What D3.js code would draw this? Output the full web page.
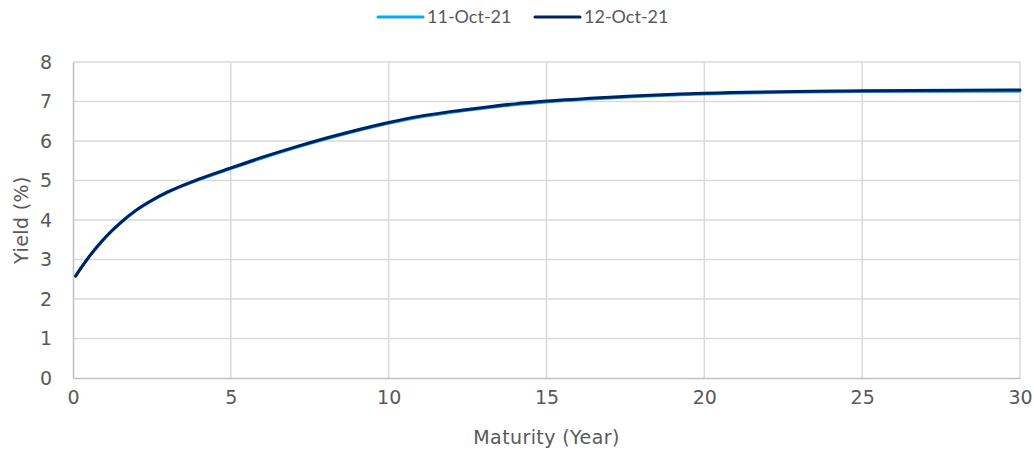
<!DOCTYPE html>
<html>
<head>
<meta charset="utf-8">
<script src="https://cdn.jsdelivr.net/npm/d3@7"></script>
<style>
  html, body { margin: 0; padding: 0; background: #ffffff; }
  svg { display: block; }
</style>
</head>
<body>
<svg id="chart" width="1034" height="450"></svg>
<script>
// Yield curve: maturity in years vs yield in percent
const maturities = [0.083, 0.25, 0.5, 0.75, 1, 1.5, 2, 2.5, 3, 4, 5, 6, 7, 8, 9, 10, 11, 12, 13, 14, 15, 17, 20, 25, 30];
const yieldsOct11 = [2.58, 2.78, 3.06, 3.31, 3.54, 3.92, 4.24, 4.49, 4.70, 5.02, 5.30, 5.57, 5.82, 6.05, 6.26, 6.45, 6.61, 6.73, 6.83, 6.92, 6.99, 7.09, 7.19, 7.25, 7.26];
const yieldsOct12 = [2.58, 2.78, 3.06, 3.31, 3.54, 3.93, 4.25, 4.50, 4.71, 5.04, 5.32, 5.59, 5.84, 6.07, 6.28, 6.47, 6.63, 6.75, 6.85, 6.94, 7.01, 7.11, 7.21, 7.27, 7.29];
const seriesNames = ["11-Oct-21", "12-Oct-21"];
const seriesColors = ["#00b0f0", "#002060"];
const xTicks = [0, 5, 10, 15, 20, 25, 30];
const yTicks = [0, 1, 2, 3, 4, 5, 6, 7, 8];

const svg = d3.select("#chart");
const margin = { left: 73, right: 14, top: 62, bottom: 72 };
const W = 1034, H = 450;

const x = d3.scaleLinear().domain([0, 30]).range([margin.left, W - margin.right]);
const y = d3.scaleLinear().domain([0, 8]).range([H - margin.bottom, margin.top]);

const textColor = "#595959";
const tickFont = "'DejaVu Sans', Verdana, sans-serif";

// Gridlines
svg.append("g")
  .selectAll("line")
  .data(yTicks.slice(1))
  .join("line")
  .attr("x1", x(0)).attr("x2", x(30))
  .attr("y1", d => y(d)).attr("y2", d => y(d))
  .attr("stroke", "#d9d9d9").attr("stroke-width", 1.5);

svg.append("g")
  .selectAll("line")
  .data(xTicks.slice(1))
  .join("line")
  .attr("x1", d => x(d)).attr("x2", d => x(d))
  .attr("y1", y(0)).attr("y2", y(8))
  .attr("stroke", "#d9d9d9").attr("stroke-width", 1.5);

// Axes
const xAxis = svg.append("g")
  .attr("transform", `translate(0,${y(0)})`)
  .call(d3.axisBottom(x).tickValues(xTicks).tickSize(0).tickPadding(13).tickFormat(d3.format("d")));
const yAxis = svg.append("g")
  .attr("transform", `translate(${x(0)},0)`)
  .call(d3.axisLeft(y).tickValues(yTicks).tickSize(0).tickPadding(21).tickFormat(d3.format("d")));

[xAxis, yAxis].forEach(g => {
  g.select(".domain").attr("stroke", "#bfbfbf").attr("stroke-width", 1.5);
  g.selectAll("text")
    .attr("fill", textColor)
    .style("font-family", tickFont)
    .style("font-size", "19px");
});

// Axis titles
svg.append("text")
  .attr("x", (x(0) + x(30)) / 2)
  .attr("y", 444)
  .attr("text-anchor", "middle")
  .attr("fill", textColor)
  .style("font-family", tickFont)
  .style("font-size", "19px")
  .style("letter-spacing", "0.4px")
  .text("Maturity (Year)");

svg.append("text")
  .attr("transform", `translate(28,${(y(0) + y(8)) / 2}) rotate(-90)`)
  .attr("text-anchor", "middle")
  .attr("fill", textColor)
  .style("font-family", tickFont)
  .style("font-size", "19px")
  .style("letter-spacing", "0.4px")
  .text("Yield (%)");

// Series lines
const line = d3.line()
  .x(d => x(d[0]))
  .y(d => y(d[1]))
  .curve(d3.curveMonotoneX);

[yieldsOct11, yieldsOct12].forEach((vals, i) => {
  svg.append("path")
    .datum(maturities.map((m, j) => [m, vals[j]]))
    .attr("d", line)
    .attr("fill", "none")
    .attr("stroke", seriesColors[i])
    .attr("stroke-width", 3)
    .attr("stroke-linejoin", "round")
    .attr("stroke-linecap", "round");
});

// Legend
const legendX = [378, 535];
const legend = svg.append("g");
seriesNames.forEach((name, i) => {
  const g = legend.append("g").attr("transform", `translate(${legendX[i]},17)`);
  g.append("line")
    .attr("x1", 0).attr("x2", 45)
    .attr("y1", 0).attr("y2", 0)
    .attr("stroke", seriesColors[i])
    .attr("stroke-width", 3)
    .attr("stroke-linecap", "round");
  g.append("text")
    .attr("x", 49)
    .attr("y", 0)
    .attr("dy", "0.35em")
    .attr("fill", textColor)
    .style("font-family", "Lato, Carlito, sans-serif")
    .style("font-size", "18px")
    .text(name);
});
</script>
</body>
</html>
